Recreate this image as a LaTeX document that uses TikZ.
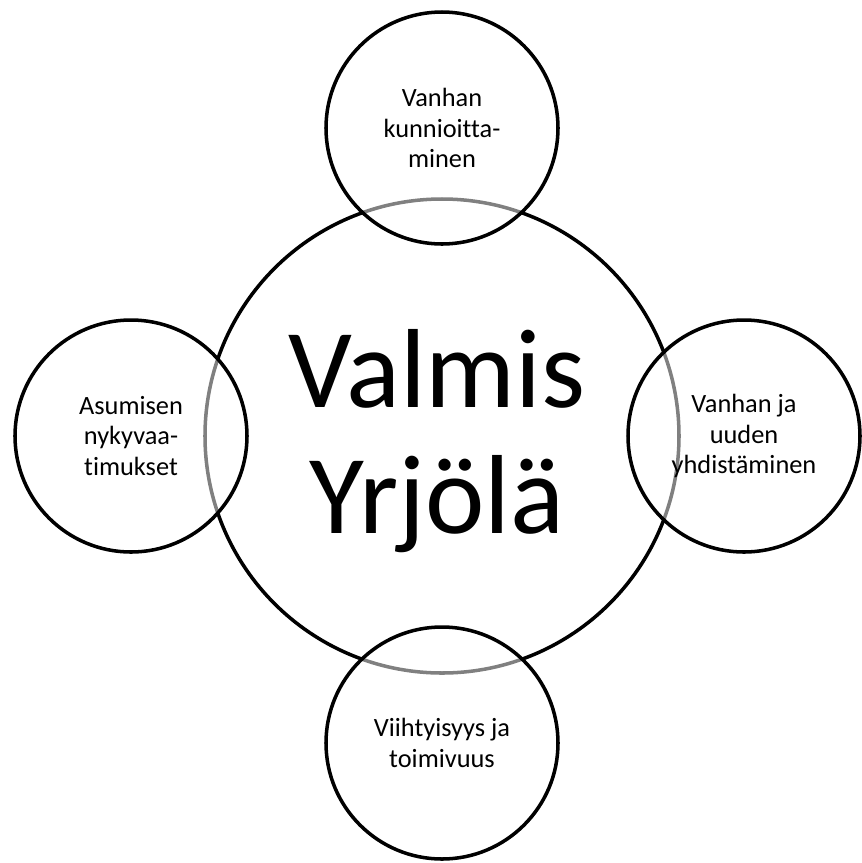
\documentclass[tikz,border=0pt]{standalone}
\usepackage{fontspec}
\setmainfont[Ligatures={NoCommon}]{Carlito}

\tikzset{
  ring/.style={fill=white, fill opacity=0.5, draw=black},
  ringtext/.style={align=center, font=\fontsize{15}{17.6}\selectfont},
  maintext/.style={align=center, font=\fontsize{64}{71.5}\selectfont}
}

\begin{document}
\begin{tikzpicture}[x=0.02cm, y=-0.02cm, line width=2pt]
        \useasboundingbox (0,0) rectangle (862,863);
        \coordinate (O) at (442,436);
        \coordinate (T) at (442,128);
        \coordinate (B) at (442,743);
        \coordinate (L) at (131,436);
        \coordinate (R) at (744,436);

        \draw (O) circle [radius=237];
        \foreach \c in {T,B,L,R}
            \draw[ring] (\c) circle [radius=116];

        \node[maintext] (main) at (437,441) {Valmis\\Yrjölä};
        \node[ringtext] (top) at (T) {Vanhan\\kunnioitta-\\minen};
        \node[ringtext] (left) at (L) {Asumisen\\nykyvaa-\\timukset};
        \node[ringtext] (right) at (R) {Vanhan ja\\uuden\\yhdistäminen};
        \node[ringtext] (bottom) at (B) {Viihtyisyys ja\\toimivuus};
    \end{tikzpicture}
\end{document}
